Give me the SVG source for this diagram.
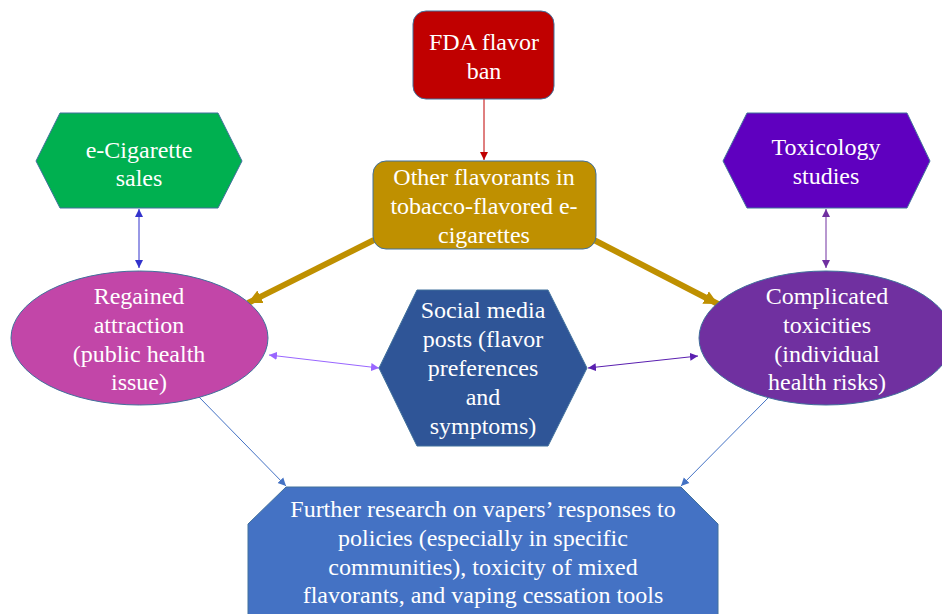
<svg xmlns="http://www.w3.org/2000/svg" width="942" height="614" viewBox="0 0 942 614">
<style>
text{font-family:"Liberation Serif","Times New Roman",serif;font-size:24px;fill:#FFFFFF;text-anchor:middle}
.node{stroke:#41719C;stroke-width:1}
.c{fill:none}
</style>
<defs>
<marker id="mRed" markerUnits="userSpaceOnUse" markerWidth="10" markerHeight="10" refX="8" refY="5" orient="auto-start-reverse" viewBox="0 0 10 10"><path d="M0,1 L8,5 L0,9 Z" fill="#C00000"/></marker>
<marker id="mBlue" markerUnits="userSpaceOnUse" markerWidth="10" markerHeight="10" refX="8" refY="5" orient="auto-start-reverse" viewBox="0 0 10 10"><path d="M0,1 L8,5 L0,9 Z" fill="#3333CC"/></marker>
<marker id="mPurple" markerUnits="userSpaceOnUse" markerWidth="10" markerHeight="10" refX="8" refY="5" orient="auto-start-reverse" viewBox="0 0 10 10"><path d="M0,1 L8,5 L0,9 Z" fill="#7030A0"/></marker>
<marker id="mLav" markerUnits="userSpaceOnUse" markerWidth="10" markerHeight="10" refX="8" refY="5" orient="auto-start-reverse" viewBox="0 0 10 10"><path d="M0,1 L8,5 L0,9 Z" fill="#9966FF"/></marker>
<marker id="mDPurple" markerUnits="userSpaceOnUse" markerWidth="10" markerHeight="10" refX="8" refY="5" orient="auto-start-reverse" viewBox="0 0 10 10"><path d="M0,1 L8,5 L0,9 Z" fill="#5A1FB0"/></marker>
<marker id="mSteel" markerUnits="userSpaceOnUse" markerWidth="10" markerHeight="10" refX="8" refY="5" orient="auto-start-reverse" viewBox="0 0 10 10"><path d="M0,1 L8,5 L0,9 Z" fill="#4472C4"/></marker>
<marker id="mGold" markerUnits="userSpaceOnUse" markerWidth="16" markerHeight="16" refX="14" refY="8" orient="auto" viewBox="0 0 16 16"><path d="M0,1 L14,8 L0,15 Z" fill="#BF9000"/></marker>
</defs>

<g id="connectors">
<line class="c" x1="484" y1="99" x2="484" y2="160" stroke="#C00000" stroke-width="1" marker-end="url(#mRed)"/>
<line class="c" x1="139" y1="209" x2="139" y2="268" stroke="#3333CC" stroke-width="1" marker-start="url(#mBlue)" marker-end="url(#mBlue)"/>
<line class="c" x1="826" y1="209" x2="826" y2="268" stroke="#7030A0" stroke-width="1" marker-start="url(#mPurple)" marker-end="url(#mPurple)"/>
<line class="c" x1="374" y1="240" x2="248" y2="303" stroke="#BF9000" stroke-width="6" marker-end="url(#mGold)"/>
<line class="c" x1="594" y1="240" x2="718" y2="304" stroke="#BF9000" stroke-width="6" marker-end="url(#mGold)"/>
<line class="c" x1="269" y1="355" x2="379" y2="368" stroke="#9966FF" stroke-width="1" marker-start="url(#mLav)" marker-end="url(#mLav)"/>
<line class="c" x1="588" y1="368" x2="698" y2="356" stroke="#5A1FB0" stroke-width="1" marker-start="url(#mDPurple)" marker-end="url(#mDPurple)"/>
<line class="c" x1="199" y1="397" x2="286" y2="486" stroke="#4472C4" stroke-width="1" marker-end="url(#mSteel)"/>
<line class="c" x1="769" y1="397" x2="681" y2="486" stroke="#4472C4" stroke-width="1" marker-end="url(#mSteel)"/>
</g>

<g id="fda">
<rect class="node" x="413" y="11" width="141" height="88" rx="13" fill="#C00000"/>
<text x="484" y="50">FDA flavor</text>
<text x="484" y="79">ban</text>
</g>

<g id="other">
<rect class="node" x="373" y="161" width="223" height="88" rx="13" fill="#BF9000"/>
<text x="484" y="185">Other flavorants in</text>
<text x="484" y="214">tobacco-flavored e-</text>
<text x="484" y="243">cigarettes</text>
</g>

<g id="ecig">
<polygon class="node" points="60,113 218,113 242,161 218,208 60,208 36,161" fill="#00B050"/>
<text x="139" y="158">e-Cigarette</text>
<text x="139" y="186">sales</text>
</g>

<g id="tox">
<polygon class="node" points="747,113 907,113 930,161 907,208 747,208 723,161" fill="#5F00BF"/>
<text x="826" y="155">Toxicology</text>
<text x="826" y="184">studies</text>
</g>

<g id="regained">
<ellipse class="node" cx="139.5" cy="338" rx="128.5" ry="67" fill="#C246A8"/>
<text x="139" y="304">Regained</text>
<text x="139" y="333">attraction</text>
<text x="139" y="362">(public health</text>
<text x="139" y="390">issue)</text>
</g>

<g id="complicated">
<ellipse class="node" cx="826" cy="338" rx="127" ry="67" fill="#7030A0"/>
<text x="827" y="304">Complicated</text>
<text x="827" y="333">toxicities</text>
<text x="827" y="362">(individual</text>
<text x="827" y="390">health risks)</text>
</g>

<g id="social">
<polygon class="node" points="417,290 548,290 587,368 548,446 417,446 379,368" fill="#2F5597"/>
<text x="483" y="318">Social media</text>
<text x="483" y="347">posts (flavor</text>
<text x="483" y="376">preferences</text>
<text x="483" y="405">and</text>
<text x="483" y="434">symptoms)</text>
</g>

<g id="research">
<polygon class="node" points="286,487 681,487 718,524 718,640 248,640 248,524" fill="#4472C4"/>
<text x="483" y="517">Further research on vapers’ responses to</text>
<text x="483" y="546">policies (especially in specific</text>
<text x="483" y="575">communities), toxicity of mixed</text>
<text x="483" y="603">flavorants, and vaping cessation tools</text>
</g>
</svg>
